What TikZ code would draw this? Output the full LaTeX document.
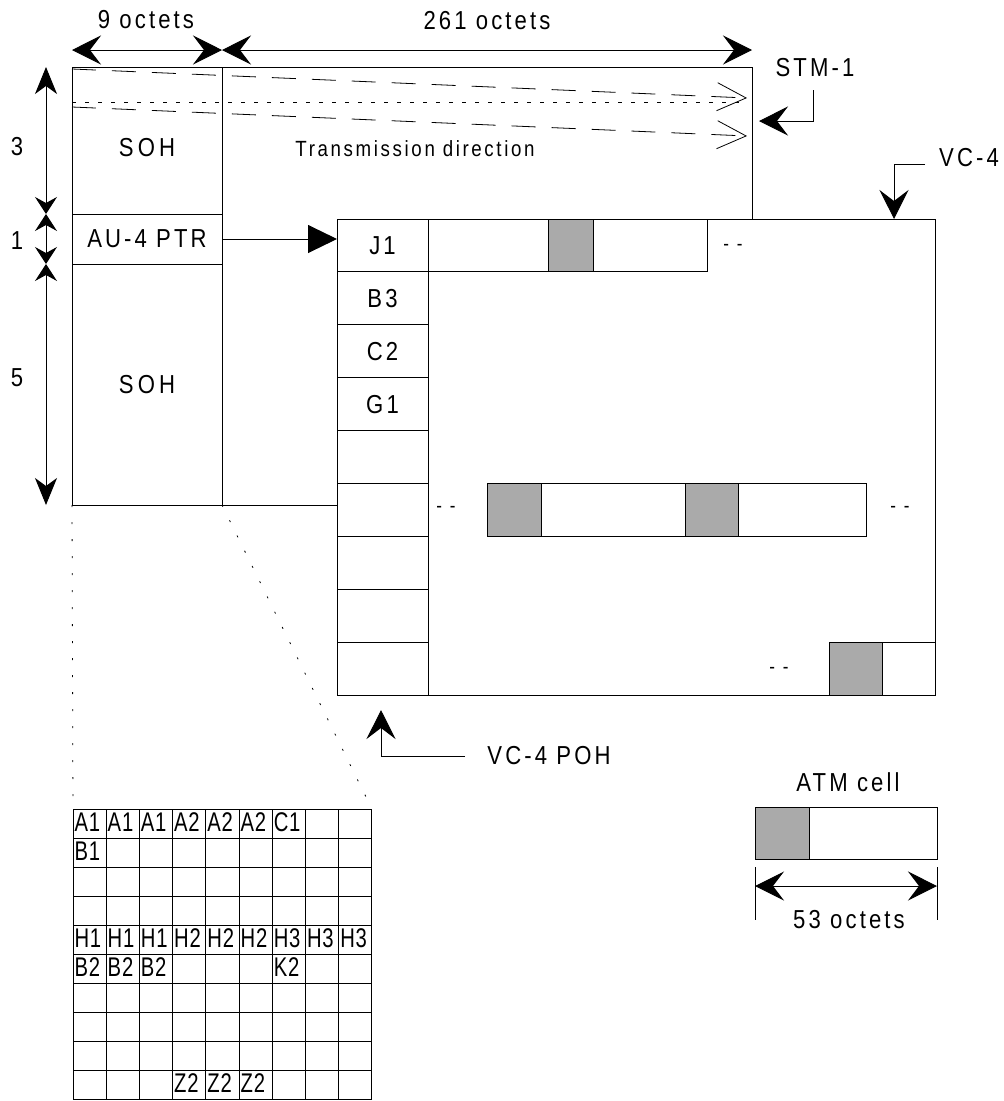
\documentclass[tikz,border=0pt]{standalone}
\usepackage{fontspec}
\setmainfont{Liberation Sans}[LetterSpace=12,FakeStretch=0.85]
\usetikzlibrary{arrows.meta}
\definecolor{cellgray}{RGB}{170,170,170}
\begin{document}
\begin{tikzpicture}[x=1pt,y=-1pt,line width=1pt,
  every node/.style={inner sep=0pt,outer sep=0pt},
  txt/.style={font=\fontsize{26}{28}\selectfont},
  cellbox/.style={draw,anchor=north west,font=\fontsize{26}{28}\selectfont},
  graybox/.style={cellbox,fill=cellgray},
  gridcell/.style={draw,anchor=north west,minimum width=33.22pt,minimum height=29pt},
  gridlbl/.style={anchor=west,xshift=1.5pt,yshift=1pt,font=\fontsize{27}{28}\selectfont\addfontfeature{LetterSpace=3,FakeStretch=0.75}},
  dim/.style={{Stealth[length=29pt,width=29pt,inset=11pt]}-{Stealth[length=29pt,width=29pt,inset=11pt]}},
  vbigsmall/.style={{Stealth[length=27pt,width=22pt,inset=8pt]}-{Stealth[length=17pt,width=22pt,inset=6pt]}},
  vsmallsmall/.style={{Stealth[length=17pt,width=22pt,inset=6pt]}-{Stealth[length=17pt,width=22pt,inset=6pt]}},
  vsmallbig/.style={{Stealth[length=17pt,width=22pt,inset=6pt]}-{Stealth[length=27pt,width=22pt,inset=8pt]}},
  callout/.style={-{Stealth[length=29pt,width=29pt,inset=11pt]}},
  longdash/.style={line width=0.8pt,dash pattern=on 24pt off 16pt,-{Straight Barb[length=29pt,width=28pt,line width=0.8pt]}},
  shortdash/.style={line width=0.8pt,dash pattern=on 4pt off 9pt},
  fan/.style={line width=0.8pt,dash pattern=on 2pt off 15pt},
  gap/.style={font=\fontsize{20}{22}\selectfont}
]
\useasboundingbox (0,0) rectangle (1004,1101);

% ---------- STM-1 frame ----------
\node[cellbox,minimum width=680pt,minimum height=438pt] (stm) at (72,67) {};
\node[cellbox,minimum width=150pt,minimum height=147pt] (sohA) at (72,67) {};
\node[txt,font=\fontsize{26}{28}\selectfont\addfontfeature{LetterSpace=16}] (sohAl) at (147,148) {SOH};
\node[cellbox,minimum width=150pt,minimum height=50pt] (ptr) at (72,214) {AU-4 PTR};
\node[cellbox,minimum width=150pt,minimum height=241pt,font=\fontsize{26}{28}\selectfont\addfontfeature{LetterSpace=16}] (sohB) at (72,264) {SOH};

% transmission direction lines
\coordinate (t1s) at (72,69);  \coordinate (t1e) at (747,98);
\coordinate (t2s) at (72,107); \coordinate (t2e) at (747,136);
\coordinate (t3s) at (72,102); \coordinate (t3e) at (747,102);
\draw[shortdash] (t3s) -- (t3e);
\draw[longdash] (t1s) -- (t1e);
\draw[longdash] (t2s) -- (t2e);
\node[font=\fontsize{22}{24}\selectfont] (tdir) at (415,149) {Transmission direction};

% ---------- dimensions ----------
\coordinate (h0) at (72,50); \coordinate (h1) at (222,50); \coordinate (h2) at (752,50);
\draw[dim] (h0) -- (h1);
\draw[dim] (h1) -- (h2);
\node[txt] (l9) at (146,20) {9 octets};
\node[txt] (l261) at (487,21) {261 octets};

\coordinate (v0) at (46,67); \coordinate (v1) at (46,214);
\coordinate (v2) at (46,264); \coordinate (v3) at (46,505);
\draw[vbigsmall] (v0) -- (v1);
\draw[vsmallsmall] (v1) -- (v2);
\draw[vsmallbig] (v2) -- (v3);
\node[txt] (l3) at (17,147) {3};
\node[txt] (l1) at (17,241) {1};
\node[txt] (l5) at (17,378) {5};

% ---------- VC-4 ----------
\node[cellbox,fill=white,minimum width=598pt,minimum height=476pt] (vc) at (337,219) {};
\foreach \i/\t in {0/J1,1/B3,2/C2,3/G1,4/,5/,6/,7/,8/}
  \node[cellbox,minimum width=91pt,minimum height=52.9pt] (poh\i) at (337,{219+52.9*\i}) {\t};

% row 1 payload
\node[cellbox,minimum width=279pt,minimum height=52.9pt] (p1) at (428,219) {};
\node[graybox,minimum width=45pt,minimum height=52.9pt] (p1g) at (548,219) {};
\node[gap] (d1) at (733,247) {-\hspace{8pt}-};
% row 6 payload
\node[cellbox,minimum width=379pt,minimum height=52.9pt] (p6) at (487,483.5) {};
\node[graybox,minimum width=54pt,minimum height=52.9pt] (p6g1) at (487,483.5) {};
\node[graybox,minimum width=53pt,minimum height=52.9pt] (p6g2) at (685,483.5) {};
\node[gap] (d2) at (446,509) {-\hspace{8pt}-};
\node[gap] (d3) at (900,509) {-\hspace{8pt}-};
% row 9 payload
\node[graybox,minimum width=53pt,minimum height=52.8pt] (p9g) at (829,642.2) {};
\node[cellbox,minimum width=53pt,minimum height=52.8pt] (p9w) at (882,642.2) {};
\node[gap] (d4) at (779,670) {-\hspace{8pt}-};

% pointer arrow
\draw[-{Triangle[length=29pt,width=28pt]}] (ptr.east) -- (ptr.east -| poh0.west);

% ---------- callouts ----------
\node[txt] (lstm) at (815,68) {STM-1};
\coordinate (s1) at (813,90); \coordinate (s2) at (759,121);
\draw[callout] (s1) |- (s2);

\node[txt] (lvc) at (969,158) {VC-4};
\coordinate (c1) at (925,164); \coordinate (c2) at (894,219);
\draw[callout] (c1) -| (c2);

\node[txt] (lpoh) at (549,756) {VC-4 POH};
\coordinate (q1) at (465,756); \coordinate (q2) at (381,710);
\draw[callout] (q1) -| (q2);

% ---------- ATM cell ----------
\node[cellbox,minimum width=182pt,minimum height=52pt] (atm) at (755,807) {};
\node[graybox,minimum width=54pt,minimum height=52pt] (atmh) at (755,807) {};
\node[txt] (latm) at (848,782) {ATM cell};
\coordinate (a1) at (755,867); \coordinate (a1b) at (755,920);
\coordinate (a2) at (937,867); \coordinate (a2b) at (937,920);
\draw (a1) -- (a1b);
\draw (a2) -- (a2b);
\coordinate (a3) at (755,886); \coordinate (a4) at (937,886);
\draw[dim] (a3) -- (a4);
\node[txt] (l53) at (849,920) {53 octets};

% ---------- SOH detail grid ----------
\foreach \r in {0,...,9}
  \foreach \c in {0,...,8}
    \node[gridcell] (g-\r-\c) at ({73+33.22*\c},{809+29*\r}) {};
\foreach \r/\c/\t in {0/0/A1,0/1/A1,0/2/A1,0/3/A2,0/4/A2,0/5/A2,0/6/C1,
  1/0/B1,
  4/0/H1,4/1/H1,4/2/H1,4/3/H2,4/4/H2,4/5/H2,4/6/H3,4/7/H3,4/8/H3,
  5/0/B2,5/1/B2,5/2/B2,5/6/K2,
  9/3/Z2,9/4/Z2,9/5/Z2}
  \node[gridlbl] (t-\r-\c) at (g-\r-\c.west) {\t};

\draw[fan] (sohB.south west) -- (g-0-0.north west);
\draw[fan] (sohB.south east) -- (g-0-8.north east);
\end{tikzpicture}
\end{document}
